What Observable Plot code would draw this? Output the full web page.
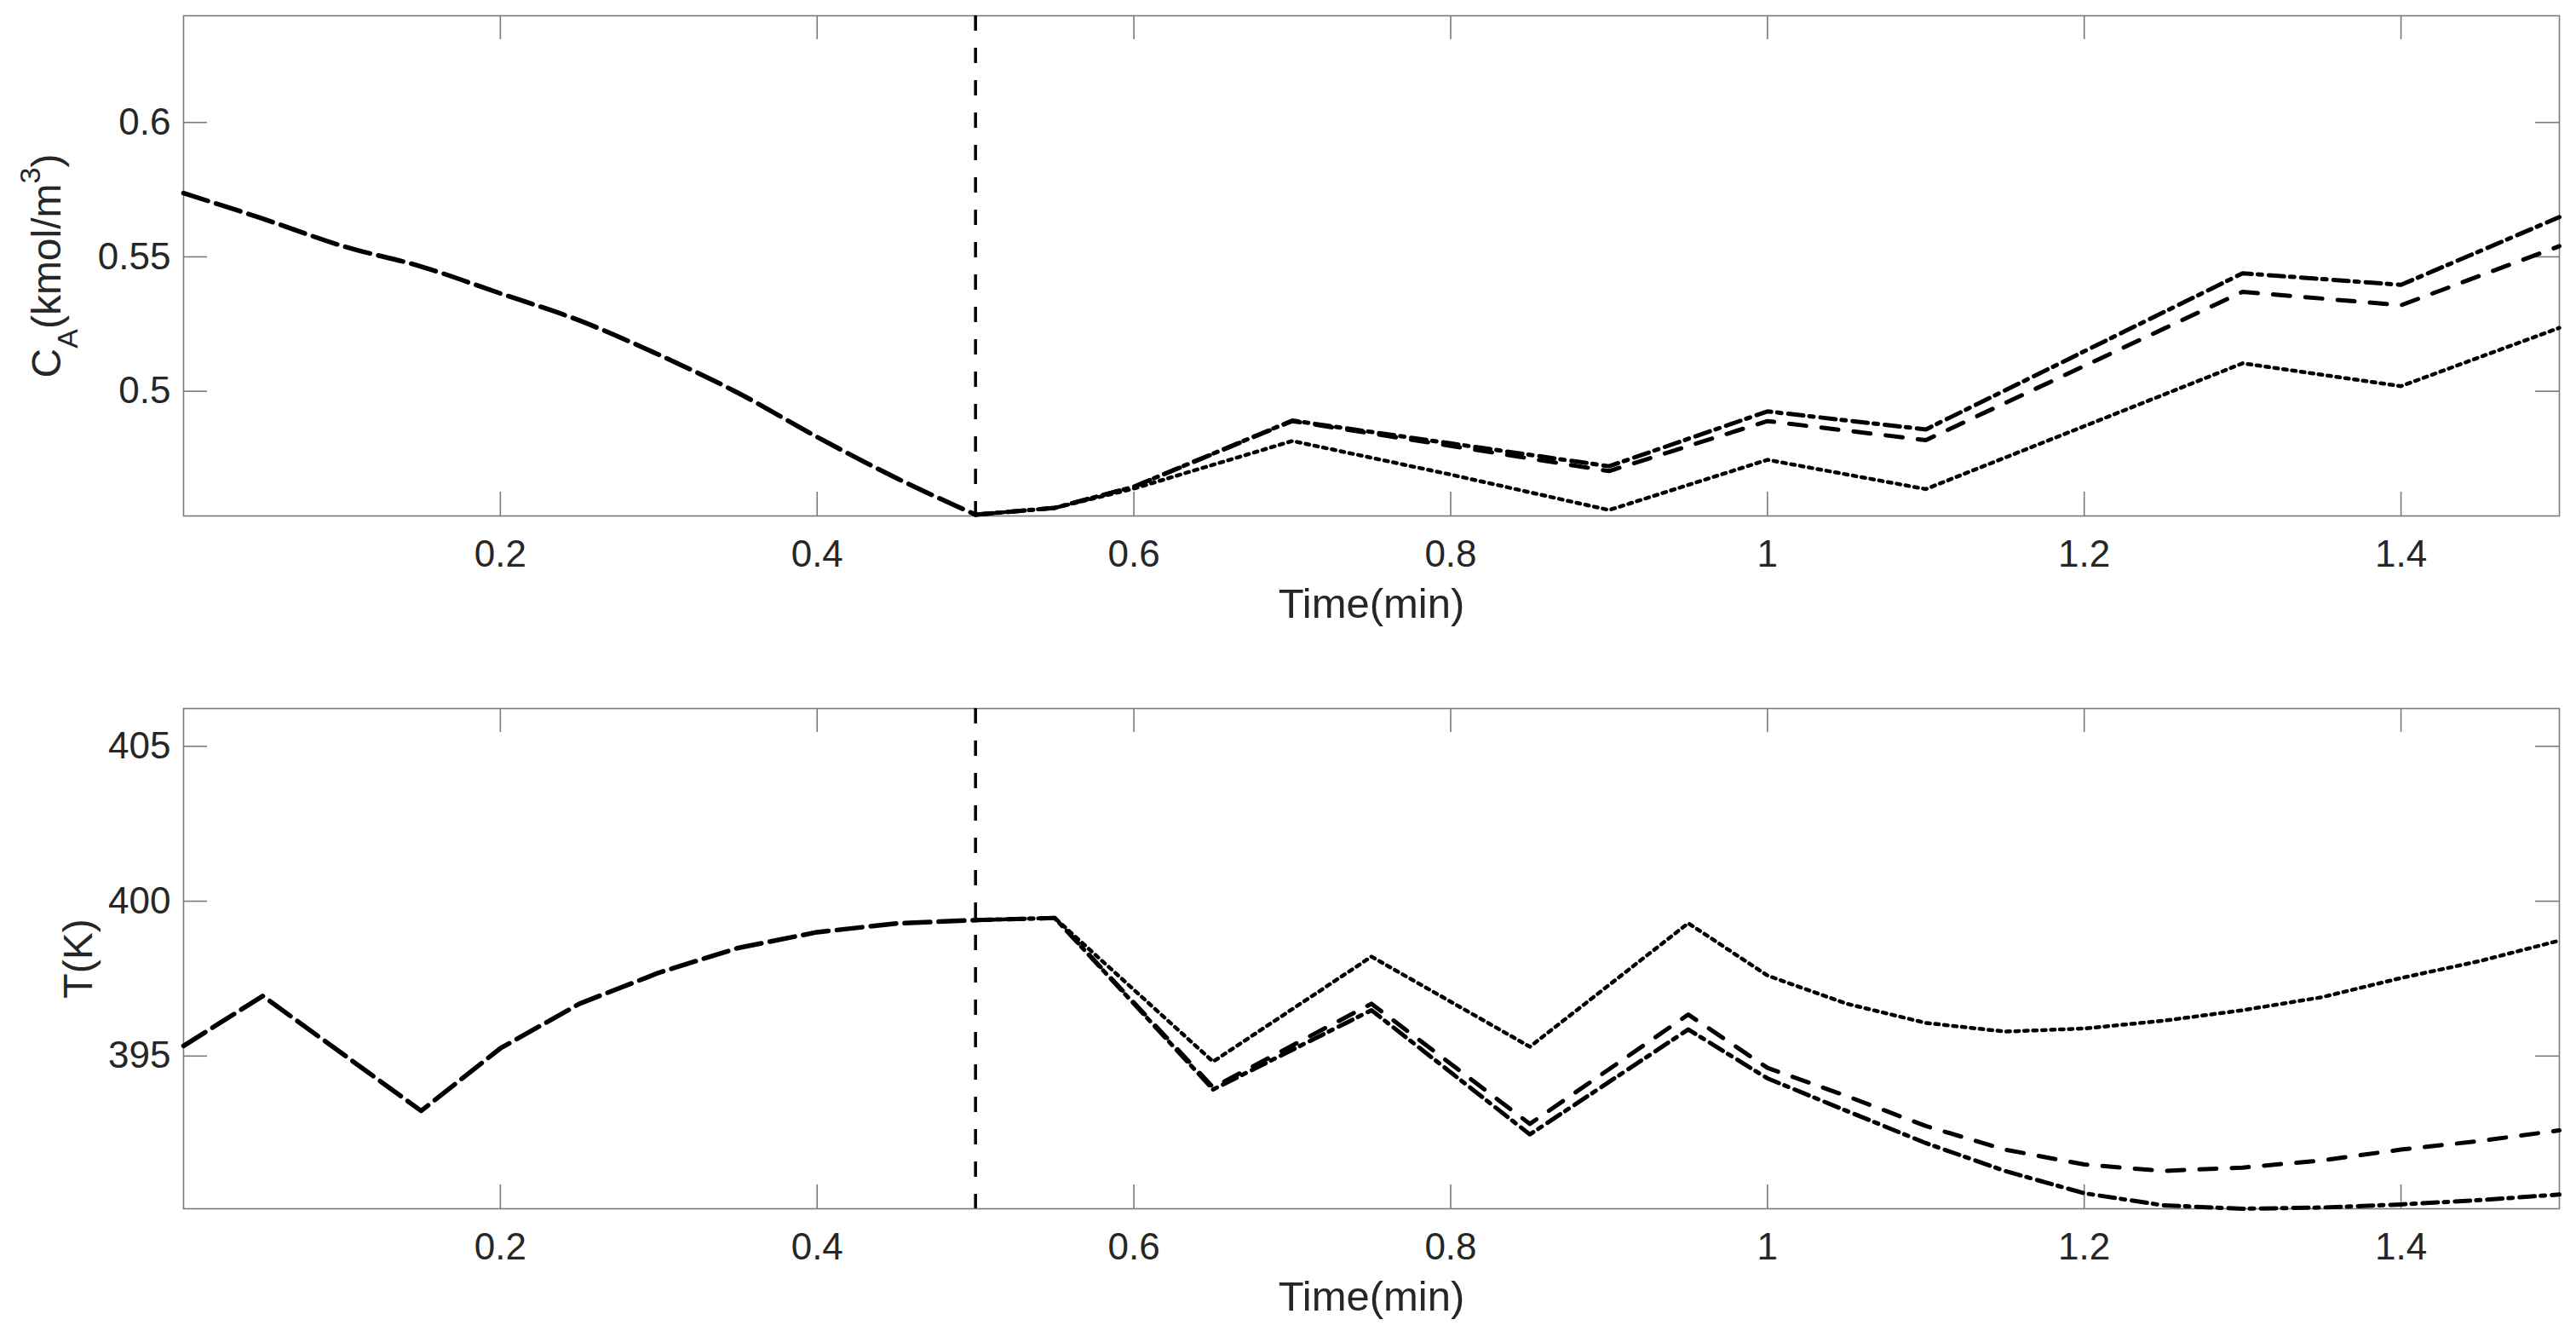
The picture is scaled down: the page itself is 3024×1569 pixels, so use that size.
<!DOCTYPE html>
<html>
<head>
<meta charset="utf-8">
<script src="https://cdn.jsdelivr.net/npm/d3@7"></script>
<script src="https://cdn.jsdelivr.net/npm/@observablehq/plot@0.6"></script>
<style>
html, body { margin: 0; padding: 0; background: #fff; }
#chart { position: relative; width: 3024px; height: 1569px; font-family: "Liberation Sans", Arial, sans-serif; }
#chart svg { display: block; }
</style>
</head>
<body>
<div id="chart"></div>
<script>
// ---------- data ----------
const xTicks = [0.2, 0.4, 0.6, 0.8, 1, 1.2, 1.4];
const caTicks = [0.5, 0.55, 0.6];
const tempTicks = [395, 400, 405];
const timeDomain = [0, 1.5];
const caDomain = [0.4536, 0.6397];
const tempDomain = [390.07, 406.22];
const switchTime = [0.5];

// concentration, common trajectory before the switch
const caPreTime = [0, 0.05, 0.1, 0.15, 0.2, 0.25, 0.3, 0.35, 0.4, 0.45, 0.5];
const caPre = [0.5737, 0.5642, 0.5541, 0.5464, 0.5364, 0.5263, 0.5136, 0.4994, 0.4830, 0.4677, 0.4541];
// concentration after the switch
const caPostTime = [0.5, 0.55, 0.6, 0.7, 0.8, 0.9, 1.0, 1.1, 1.3, 1.4, 1.5];
const caDashDot = [0.4541, 0.4566, 0.4645, 0.4891, 0.4806, 0.4721, 0.4925, 0.4858, 0.5439, 0.5396, 0.5648];
const caDashed  = [0.4541, 0.4566, 0.4645, 0.4889, 0.4797, 0.4703, 0.4889, 0.4818, 0.5370, 0.5320, 0.5540];
const caDotted  = [0.4541, 0.4566, 0.4638, 0.4815, 0.4690, 0.4558, 0.4745, 0.4636, 0.5104, 0.5019, 0.5236];

// temperature, common trajectory before the switch
const tempPreTime = [0, 0.05, 0.15, 0.2, 0.25, 0.3, 0.35, 0.4, 0.45, 0.5];
const tempPre = [395.33, 396.94, 393.23, 395.25, 396.69, 397.69, 398.49, 399.0, 399.28, 399.39];
// temperature after the switch
const tempPostTime = [0.5, 0.55, 0.65, 0.75, 0.85, 0.95, 1.0, 1.05, 1.1, 1.15, 1.2, 1.25, 1.3, 1.35, 1.4, 1.45, 1.5];
const tempDashDot = [399.39, 399.46, 393.92, 396.48, 392.47, 395.86, 394.28, 393.23, 392.19, 391.29, 390.57, 390.18, 390.07, 390.11, 390.21, 390.35, 390.53];
const tempDashed  = [399.39, 399.46, 393.99, 396.69, 392.81, 396.34, 394.62, 393.71, 392.74, 391.98, 391.50, 391.29, 391.40, 391.63, 391.98, 392.26, 392.60];
const tempDotted  = [399.39, 399.46, 394.82, 398.21, 395.30, 399.29, 397.60, 396.69, 396.07, 395.79, 395.89, 396.14, 396.48, 396.90, 397.52, 398.07, 398.73];

// ---------- helpers ----------
const rows = (times, values) => times.map((t, i) => ({time: t, value: values[i]}));
const W = 3024, ML = 215, MR = 20, TICK = 28;
const FONT = '"Liberation Sans", Arial, sans-serif';
const INK = "#262626";
const AXIS = "#7a7a7a";
const LW = 5;

function panel({height, marginTop, marginBottom, yDomain, yTicks, pre, preCurve, post, yLabel, yLabelX}) {
  const innerH = height - marginTop - marginBottom;
  const innerW = W - ML - MR;
  return Plot.plot({
    width: W, height, marginLeft: ML, marginRight: MR, marginTop, marginBottom,
    x: {domain: timeDomain},
    y: {domain: yDomain},
    style: {fontFamily: FONT, color: INK, background: "white", overflow: "visible"},
    marks: [
      Plot.frame({stroke: AXIS, strokeWidth: 1.6}),
      Plot.tickX(xTicks, {x: d => d, insetTop: innerH - TICK, stroke: AXIS, strokeWidth: 1.6}),
      Plot.tickX(xTicks, {x: d => d, insetBottom: innerH - TICK, stroke: AXIS, strokeWidth: 1.6}),
      Plot.tickY(yTicks, {y: d => d, insetRight: innerW - TICK, stroke: AXIS, strokeWidth: 1.6}),
      Plot.tickY(yTicks, {y: d => d, insetLeft: innerW - TICK, stroke: AXIS, strokeWidth: 1.6}),
      Plot.axisX({ticks: xTicks, tickSize: 0, tickPadding: 28, fontSize: 44, tickFormat: d => String(d), label: null, fill: INK}),
      Plot.axisY({ticks: yTicks, tickSize: 0, tickPadding: 15, fontSize: 44, tickFormat: d => String(d), label: null, fill: INK}),
      Plot.ruleX(switchTime, {x: d => d, stroke: "#000", strokeWidth: 3.5, strokeDasharray: "18,20"}),
      Plot.line(pre, {x: "time", y: "value", curve: preCurve, stroke: "#000", strokeWidth: LW + 0.5, strokeDasharray: "30,10", strokeLinejoin: "round"}),
      Plot.line(post.dotted, {x: "time", y: "value", stroke: "#000", strokeWidth: 4.5, strokeDasharray: "4.5,6"}),
      Plot.line(post.dashed, {x: "time", y: "value", stroke: "#000", strokeWidth: LW, strokeDasharray: "20,18"}),
      Plot.line(post.dashDot, {x: "time", y: "value", stroke: "#000", strokeWidth: LW, strokeDasharray: "18,7,5,8"}),
      Plot.text(["Time(min)"], {frameAnchor: "bottom", dy: 85, lineAnchor: "top", fontSize: 49, fill: INK}),
      Plot.text([yLabel], {frameAnchor: "left", dx: -(ML - yLabelX), rotate: -90, lineAnchor: "bottom", textAnchor: "middle", fontSize: 48, fill: INK})
    ]
  });
}

const topPanel = panel({
  height: 800, marginTop: 18, marginBottom: 195,
  yDomain: caDomain, yTicks: caTicks,
  pre: rows(caPreTime, caPre), preCurve: "monotone-x",
  post: {dashDot: rows(caPostTime, caDashDot), dashed: rows(caPostTime, caDashed), dotted: rows(caPostTime, caDotted)},
  yLabel: "CA(kmol/m3)", yLabelX: 70
});
const bottomPanel = panel({
  height: 769, marginTop: 31, marginBottom: 151,
  yDomain: tempDomain, yTicks: tempTicks,
  pre: rows(tempPreTime, tempPre), preCurve: "linear",
  post: {dashDot: rows(tempPostTime, tempDashDot), dashed: rows(tempPostTime, tempDashed), dotted: rows(tempPostTime, tempDotted)},
  yLabel: "T(K)", yLabelX: 107
});

// rich y label for concentration: C with subscript A, m with superscript 3
(function richLabel(svg) {
  const t = Array.from(svg.querySelectorAll("text")).find(e => e.textContent === "CA(kmol/m3)");
  if (!t) return;
  while (t.firstChild) t.removeChild(t.firstChild);
  const parts = [
    {s: "C"},
    {s: "A", size: 34, dy: 20},
    {s: "(kmol/m", dy: -20},
    {s: "3", size: 34, dy: -24},
    {s: ")", dy: 24}
  ];
  const ns = "http://www.w3.org/2000/svg";
  for (const p of parts) {
    const ts = document.createElementNS(ns, "tspan");
    ts.textContent = p.s;
    if (p.size) ts.setAttribute("font-size", p.size);
    if (p.dy) ts.setAttribute("dy", p.dy);
    t.appendChild(ts);
  }
})(topPanel);

const chart = document.getElementById("chart");
chart.appendChild(topPanel);
chart.appendChild(bottomPanel);
</script>
</body>
</html>
